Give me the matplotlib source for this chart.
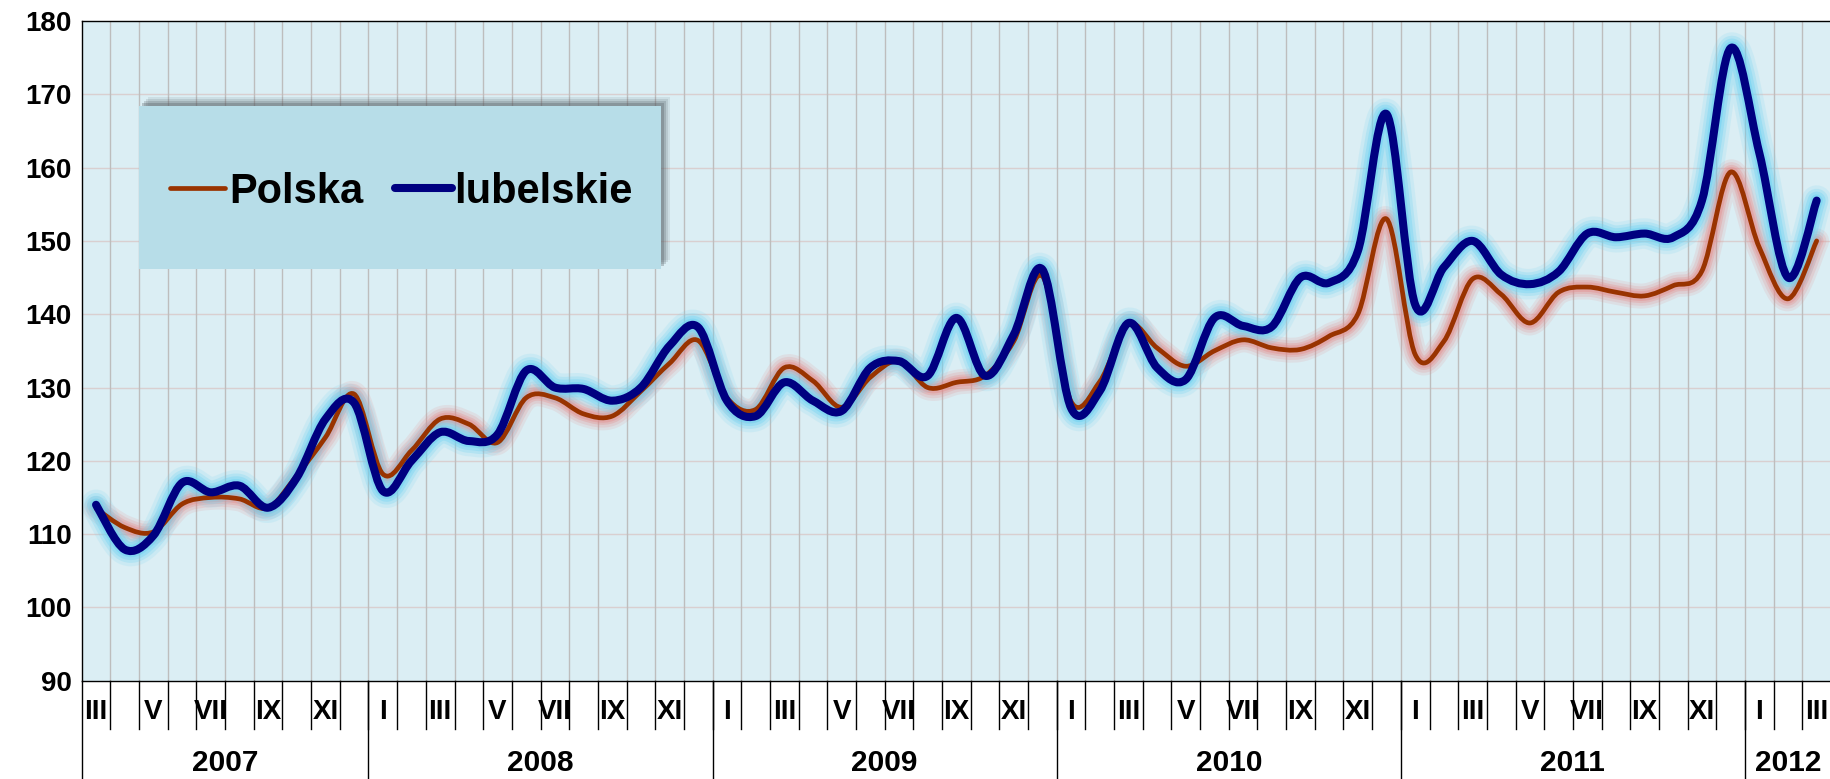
import numpy as np
import matplotlib
matplotlib.use("Agg")
import matplotlib.pyplot as plt
from matplotlib.path import Path
from matplotlib.patches import PathPatch, Rectangle
from matplotlib.lines import Line2D
import matplotlib.transforms as mtransforms

plt.rcParams['font.family'] = ['Liberation Sans', 'DejaVu Sans']

# --- data (monthly, III 2007 .. III 2012) ---
months = ['III', 'IV', 'V', 'VI', 'VII', 'VIII', 'IX', 'X', 'XI', 'XII',
          'I', 'II', 'III', 'IV', 'V', 'VI', 'VII', 'VIII', 'IX', 'X', 'XI', 'XII',
          'I', 'II', 'III', 'IV', 'V', 'VI', 'VII', 'VIII', 'IX', 'X', 'XI', 'XII',
          'I', 'II', 'III', 'IV', 'V', 'VI', 'VII', 'VIII', 'IX', 'X', 'XI', 'XII',
          'I', 'II', 'III', 'IV', 'V', 'VI', 'VII', 'VIII', 'IX', 'X', 'XI', 'XII',
          'I', 'II', 'III']
years = ['2007', '2008', '2009', '2010', '2011', '2012']
months_per_year = [10, 12, 12, 12, 12, 3]

polska = [113.5, 110.9, 110.3, 114.1, 115.0, 114.8, 113.6, 118.0, 123.2, 129.1,
          118.2, 121.4, 125.7, 125.0, 122.5, 128.6, 128.6, 126.4, 126.1, 129.5, 133.3, 136.4,
          128.6, 127.0, 132.7, 130.9, 127.3, 131.4, 133.6, 130.0, 130.7, 131.6, 136.3, 145.2,
          128.1, 130.8, 138.6, 135.4, 132.9, 135.0, 136.5, 135.4, 135.2, 137.0, 140.0, 153.0,
          134.5, 136.3, 144.8, 142.7, 138.8, 143.0, 143.7, 143.0, 142.5, 143.9, 145.9, 159.4,
          149.1, 142.1, 150.0]
lubelskie = [114.0, 107.9, 109.8, 117.0, 115.7, 116.6, 113.6, 117.7, 125.7, 127.9,
             115.9, 120.0, 123.9, 122.7, 123.6, 132.3, 130.0, 129.8, 128.2, 130.0, 135.7, 138.2,
             128.2, 126.1, 130.7, 128.2, 126.8, 132.7, 133.6, 131.6, 139.5, 131.6, 137.2, 146.1,
             127.2, 129.5, 138.8, 132.7, 131.1, 139.5, 138.4, 138.3, 145.0, 144.3, 148.6, 167.3,
             141.3, 146.4, 150.0, 145.4, 144.1, 145.8, 151.0, 150.5, 151.0, 150.5, 155.5, 176.3,
             162.0, 145.0, 155.5]
series_names = ['Polska', 'lubelskie']

W, H = 1831, 779
C_POL = '#993300'
C_LUB = '#000080'


def smooth_path(xs, ys):
    # Catmull-Rom style bezier through every point (like Excel "smoothed line")
    P = np.column_stack([xs, ys]).astype(float)
    Pe = np.vstack([P[0], P, P[-1]])
    verts = [P[0]]
    codes = [Path.MOVETO]
    for i in range(len(P) - 1):
        p0, p1, p2, p3 = Pe[i], Pe[i + 1], Pe[i + 2], Pe[i + 3]
        verts += [p1 + (p2 - p0) / 6.0, p2 - (p3 - p1) / 6.0, p2]
        codes += [Path.CURVE4] * 3
    return Path(verts, codes)


fig = plt.figure(figsize=(W / 100, H / 100), dpi=100)
ax_left, ax_top, ax_bot = 81.7, 21.0, 680.7
ax = fig.add_axes([ax_left / W, 1 - ax_bot / H, (W - ax_left) / W, (ax_bot - ax_top) / H])
ax.set_facecolor('#DBEEF4')

x = np.arange(len(months))
ax.set_xlim(-0.5, len(months) - 0.5)
ax.set_ylim(90, 180)

# grid
for yv in range(100, 180, 10):
    ax.axhline(yv, color='#D9CFD0', lw=1.0, zorder=1)
for b in np.arange(0.5, len(months) - 0.5, 1.0):
    ax.axvline(b, color='#BDBDBD', lw=1.0, zorder=1)

# glows
path_pol = smooth_path(x, polska)
path_lub = smooth_path(x, lubelskie)
for lw, a in [(18, 0.15), (14, 0.2), (10, 0.3), (7, 0.4)]:
    ax.add_patch(PathPatch(path_pol, fill=False, edgecolor='#E58C8C', lw=lw, alpha=a,
                           capstyle='round', joinstyle='round', zorder=2))
for lw, a in [(22, 0.15), (17, 0.25), (13, 0.35), (9, 0.5)]:
    ax.add_patch(PathPatch(path_lub, fill=False, edgecolor='#6FD3F2', lw=lw, alpha=a,
                           capstyle='round', joinstyle='round', zorder=3))
ax.add_patch(PathPatch(path_pol, fill=False, edgecolor=C_POL, lw=3.4,
                       capstyle='round', joinstyle='round', zorder=4))
ax.add_patch(PathPatch(path_lub, fill=False, edgecolor=C_LUB, lw=5.8,
                       capstyle='round', joinstyle='round', zorder=5))

# axes styling
for s in ['left', 'top', 'bottom']:
    ax.spines[s].set_color('black')
    ax.spines[s].set_linewidth(1.0)
    ax.spines[s].set_zorder(6)
ax.spines['right'].set_visible(False)
ax.set_yticks(range(90, 181, 10))
ax.tick_params(axis='y', length=0, pad=7, labelsize=20)
for t in ax.get_yticklabels():
    t.set_fontweight('bold')
ax.set_xticks([])

# category axis (months + years)
trans = mtransforms.blended_transform_factory(ax.transData, ax.transAxes)
y_month = (ax_bot - 712) / (ax_bot - ax_top)
y_tick = (ax_bot - 729) / (ax_bot - ax_top)
y_year = (ax_bot - 763) / (ax_bot - ax_top)
y_end = (ax_bot - H) / (ax_bot - ax_top)
for i, m in enumerate(months):
    if i % 2 == 0:
        ax.text(i, y_month, m, transform=trans, ha='center', va='center',
                fontsize=20, fontweight='bold', clip_on=False)
for b in np.arange(0.5, len(months) - 0.5, 1.0):
    ax.add_line(Line2D([b, b], [0, y_tick], transform=trans, color='black', lw=1.0, clip_on=False))
start = -0.5
for yr, n in zip(years, months_per_year):
    ax.add_line(Line2D([start, start], [0, y_end], transform=trans, color='black', lw=1.0, clip_on=False))
    ax.text(start + n / 2, y_year, yr, transform=trans, ha='center', va='center',
            fontsize=21.5, fontweight='bold', clip_on=False)
    start += n


# legend (drawn by hand: box with shadow up-right)
def fx(px):
    return px / W


def fy(py):
    return 1 - py / H


bx0, by0, bx1, by1 = 139, 106, 661, 269
for off, a in [(9, 0.10), (7, 0.15), (5, 0.22), (3, 0.3)]:
    fig.add_artist(Rectangle((fx(bx0 + off), fy(by1 + 0 - off)), fx(bx1 - bx0), (by1 - by0) / H,
                             transform=fig.transFigure, facecolor='#505a60', edgecolor='none',
                             alpha=a, zorder=8))
fig.add_artist(Rectangle((fx(bx0), fy(by1)), fx(bx1 - bx0), (by1 - by0) / H,
                         transform=fig.transFigure, facecolor='#B7DDE8', edgecolor='none', zorder=9))
fig.add_artist(Line2D([fx(170), fx(225)], [fy(188), fy(188)], transform=fig.transFigure,
                      color=C_POL, lw=3.4, solid_capstyle='round', zorder=10))
fig.add_artist(Line2D([fx(395), fx(452)], [fy(188), fy(188)], transform=fig.transFigure,
                      color=C_LUB, lw=5.8, solid_capstyle='round', zorder=10))
fig.text(fx(229), fy(203), series_names[0], fontsize=30, fontweight='bold', va='baseline', zorder=11)
fig.text(fx(454), fy(203), series_names[1], fontsize=30, fontweight='bold', va='baseline', zorder=11)

fig.savefig('out.png', dpi=100, facecolor='white')
